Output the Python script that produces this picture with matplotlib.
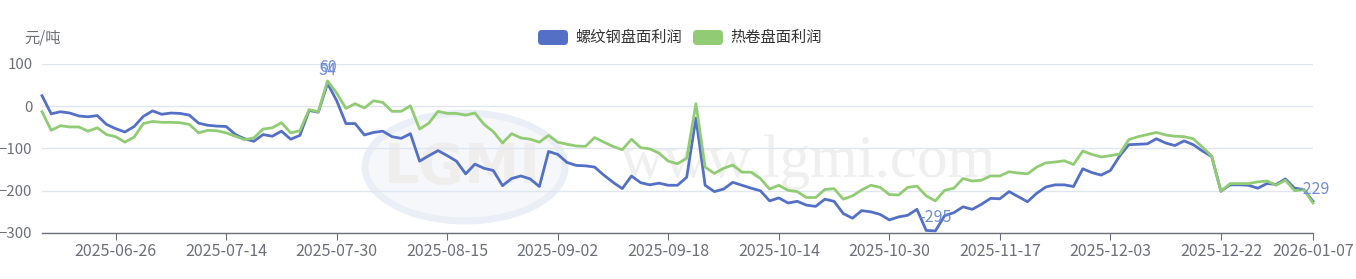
import numpy as np
import pandas as pd
import matplotlib
matplotlib.use('Agg')
import matplotlib.pyplot as plt
from matplotlib.patches import FancyBboxPatch, Ellipse

plt.rcParams['font.family'] = ['Noto Sans CJK SC', 'DejaVu Sans']

# ---------------- data ----------------
holidays = ['2025-10-01', '2025-10-02', '2025-10-03', '2025-10-06', '2025-10-07',
            '2025-10-08', '2025-12-12', '2026-01-01', '2026-01-02']
dates = [d.strftime('%Y-%m-%d') for d in pd.bdate_range('2025-06-16', '2026-01-07')
         if d.strftime('%Y-%m-%d') not in holidays]

series_names = ['螺纹钢盘面利润', '热卷盘面利润']

rebar_profit = [
    25, -18, -13, -16, -23, -25, -22, -43, -53, -61,
    -48, -24, -11, -19, -16, -17, -21, -40, -45, -47,
    -48, -67, -77, -83, -67, -71, -59, -78, -69, -10,
    -14, 54, 13, -41, -41, -68, -62, -59, -72, -76,
    -65, -130, -117, -105, -117, -130, -160, -137, -147, -152,
    -188, -171, -165, -172, -190, -107, -114, -133, -140, -141,
    -144, -163, -180, -195, -165, -181, -186, -182, -187, -187,
    -168, -28, -187, -202, -196, -180, -187, -194, -200, -224,
    -217, -229, -225, -234, -237, -220, -225, -254, -265, -247,
    -250, -256, -269, -262, -258, -244, -294, -295, -259, -252,
    -238, -244, -232, -218, -219, -202, -214, -226, -206, -191,
    -186, -186, -190, -148, -157, -163, -152, -118, -91, -90,
    -89, -77, -87, -93, -82, -91, -106, -119, -201, -186,
    -186, -187, -194, -183, -185, -172, -194, -197, -225,
]

hrc_profit = [
    -13, -57, -46, -49, -49, -59, -51, -67, -72, -85,
    -73, -41, -36, -38, -38, -39, -43, -63, -57, -58,
    -63, -71, -79, -75, -54, -51, -39, -63, -58, -8,
    -13, 60, 31, -5, 6, -4, 13, 9, -12, -12,
    1, -54, -40, -12, -17, -17, -21, -16, -43, -60,
    -87, -65, -75, -78, -85, -69, -85, -90, -94, -95,
    -74, -85, -95, -103, -78, -98, -101, -111, -130, -136,
    -123, 6, -144, -159, -147, -139, -156, -156, -171, -196,
    -187, -199, -202, -216, -216, -197, -195, -220, -212, -198,
    -187, -192, -209, -210, -192, -189, -212, -224, -199, -194,
    -171, -177, -175, -165, -165, -155, -158, -160, -144, -134,
    -132, -129, -138, -106, -114, -120, -117, -113, -79, -72,
    -67, -62, -68, -71, -72, -77, -97, -118, -201, -183,
    -183, -183, -179, -177, -187, -175, -200, -197, -229,
]

tick_labels = ['2025-06-26', '2025-07-14', '2025-07-30', '2025-08-15', '2025-09-02',
               '2025-09-18', '2025-10-14', '2025-10-30', '2025-11-17', '2025-12-03',
               '2025-12-22', '2026-01-07']
y_ticks = [-300, -200, -100, 0, 100]

# ---------------- figure ----------------
W, H = 1356, 279
fig = plt.figure(figsize=(W / 100, H / 100), dpi=100)
fig.patch.set_facecolor('white')

# background (watermark) in pixel coordinates
bg = fig.add_axes([0, 0, 1, 1], zorder=0)
bg.set_xlim(0, W)
bg.set_ylim(H, 0)
bg.axis('off')
bg.add_patch(Ellipse((465, 167), 200, 108, facecolor='#f5f7fb', edgecolor='#eaeff7', lw=5))
bg.text(462, 168, 'LGMI', fontsize=40, family='DejaVu Sans', weight='bold',
        color='#f0eded', ha='center', va='center')
bg.text(808, 177, 'www.lgmi.com', fontsize=44, family='Liberation Serif',
        color='#efefef', ha='center', va='baseline')

ax = fig.add_axes([42 / W, 46 / H, (1313 - 42) / W, (233 - 64) / H], zorder=2)
ax.patch.set_alpha(0)
x = np.arange(len(dates))
ax.plot(x, rebar_profit, color='#5470c6', lw=2.0, zorder=3, clip_on=False,
        solid_joinstyle='round')
ax.plot(x, hrc_profit, color='#91cc75', lw=2.0, zorder=4, clip_on=False,
        solid_joinstyle='round')

ax.set_xlim(0, len(dates) - 1)
ax.set_ylim(-300, 100)
ax.set_yticks(y_ticks)
ax.yaxis.grid(True, color='#e0e6f1', lw=1)
ax.set_axisbelow(True)
for s in ['top', 'right', 'left']:
    ax.spines[s].set_visible(False)
ax.spines['bottom'].set_color('#6e7079')
ax.spines['bottom'].set_linewidth(1)

tick_pos = [dates.index(t) for t in tick_labels]
ax.set_xticks(tick_pos)
ax.set_xticklabels(tick_labels)
ax.tick_params(axis='x', length=5, color='#6e7079', labelcolor='#6e7079', labelsize=11.5, pad=2)
ax.tick_params(axis='y', length=0, pad=7, labelcolor='#6e7079', labelsize=10.8)

# value labels
lab_color = '#6f8dd8'
def vlabel(series, idx):
    ax.annotate(str(series[idx]), (idx, series[idx]), xytext=(0, 9.5), textcoords='offset points',
                ha='center', va='center', color=lab_color, fontsize=11.5, zorder=6,
                annotation_clip=False)

vlabel(hrc_profit, int(np.argmax(hrc_profit)))
vlabel(rebar_profit, int(np.argmax(rebar_profit)))
vlabel(rebar_profit, int(np.argmin(rebar_profit)))
vlabel(hrc_profit, len(hrc_profit) - 1)

# overlay for legend / unit
ov = fig.add_axes([0, 0, 1, 1], zorder=3)
ov.set_xlim(0, W)
ov.set_ylim(H, 0)
ov.axis('off')
ov.patch.set_alpha(0)
ov.text(43, 38, '元/吨', fontsize=11, color='#6e7079', ha='center', va='center')

colors = ['#5470c6', '#91cc75']
box_x = [538, 693]
text_x = [575, 730]
for c, bx, tx, name in zip(colors, box_x, text_x, series_names):
    ov.add_patch(FancyBboxPatch((bx, 30), 30, 15, boxstyle='round,pad=0,rounding_size=4',
                                facecolor=c, edgecolor='none'))
    ov.text(tx, 37.5, name, fontsize=11, color='#333333', ha='left', va='center')

fig.savefig('out.png', dpi=100, facecolor='white')
